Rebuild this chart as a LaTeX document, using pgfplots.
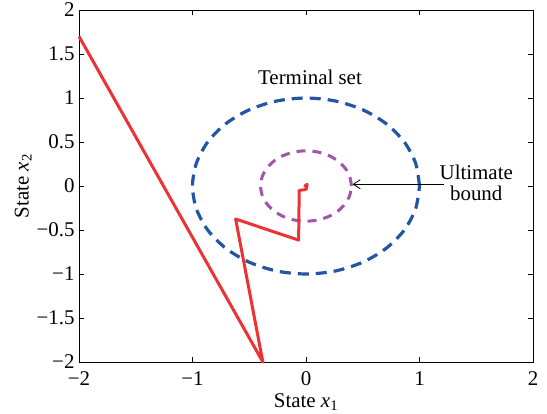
\documentclass[border=0pt]{standalone}
\usepackage{fontspec}
\setmainfont{Liberation Serif}
\usepackage{pgfplots}
\pgfplotsset{compat=1.18}
\usetikzlibrary{arrows.meta}
\definecolor{tred}{RGB}{236,50,50}
\definecolor{tblue}{RGB}{35,85,165}
\definecolor{tpurple}{RGB}{160,85,170}
\begin{document}
\begin{tikzpicture}
\path[use as bounding box] (-79bp,-52bp) rectangle (468bp,362bp);
\begin{axis}[
  anchor=south west, at={(0,0)},
  scale only axis, width=454bp, height=352bp,
  xmin=-2, xmax=2, ymin=-2, ymax=2,
  xtick={-2,-1,0,1,2},
  xticklabels={−2,−1,0,1,2},
  ytick={-2,-1.5,-1,-0.5,0,0.5,1,1.5,2},
  yticklabels={−2,−1.5,−1,−0.5,0,0.5,1,1.5,2},
  tick align=inside, major tick length=5bp,
  axis line style={line width=0.8bp},
  tick style={line width=0.8bp, black},
  tick label style={font=\fontsize{21}{24}\selectfont},
  xticklabel style={yshift=-6bp},
  yticklabel style={xshift=-1bp},
  label style={font=\fontsize{21}{24}\selectfont},
  xlabel={State \textit{x}\textsubscript{1}},
  ylabel={State \textit{x}\textsubscript{2}},
  xlabel style={yshift=-1.5bp},
  ylabel style={yshift=-2bp},
  clip=false,
]
\addplot[tblue, line width=3.2bp, dash pattern=on 11bp off 7bp, smooth] coordinates {
(1,0) (0.9659,0.2588) (0.8660,0.5) (0.7071,0.7071) (0.5,0.8660) (0.2588,0.9659)
(0,1) (-0.2588,0.9659) (-0.5,0.8660) (-0.7071,0.7071) (-0.8660,0.5) (-0.9659,0.2588)
(-1,0) (-0.9659,-0.2588) (-0.8660,-0.5) (-0.7071,-0.7071) (-0.5,-0.8660) (-0.2588,-0.9659)
(0,-1) (0.2588,-0.9659) (0.5,-0.8660) (0.7071,-0.7071) (0.8660,-0.5) (0.9659,-0.2588) (1,0)};
\addplot[tpurple, line width=3bp, dash pattern=on 9bp off 7bp, smooth] coordinates {
(0.4,0) (0.3864,0.1035) (0.3464,0.2) (0.2828,0.2828) (0.2,0.3464) (0.1035,0.3864)
(0,0.4) (-0.1035,0.3864) (-0.2,0.3464) (-0.2828,0.2828) (-0.3464,0.2) (-0.3864,0.1035)
(-0.4,0) (-0.3864,-0.1035) (-0.3464,-0.2) (-0.2828,-0.2828) (-0.2,-0.3464) (-0.1035,-0.3864)
(0,-0.4) (0.1035,-0.3864) (0.2,-0.3464) (0.2828,-0.2828) (0.3464,-0.2) (0.3864,-0.1035) (0.4,0)};
\addplot[tred, line width=3bp, line join=round] coordinates {
(-2,1.7) (-0.38,-2) (-0.62,-0.375) (-0.065,-0.615) (-0.06,-0.05) (0.0,-0.04) (0.01,0.02) (-0.01,0.0) (0.01,0.0) (0.0,0.01)};
\node[font=\fontsize{21}{24}\selectfont] at (axis cs:0.035,1.23) {Terminal set};
\node[font=\fontsize{21}{24}\selectfont, align=center, inner sep=0pt] at (axis cs:1.5,0.04) {Ultimate\\[-3bp]bound};
\draw[-{Straight Barb[length=7bp,width=9bp]}, line width=0.8bp] (axis cs:1.22,0.02) -- (axis cs:0.41,0.02);
\end{axis}
\end{tikzpicture}
\end{document}
